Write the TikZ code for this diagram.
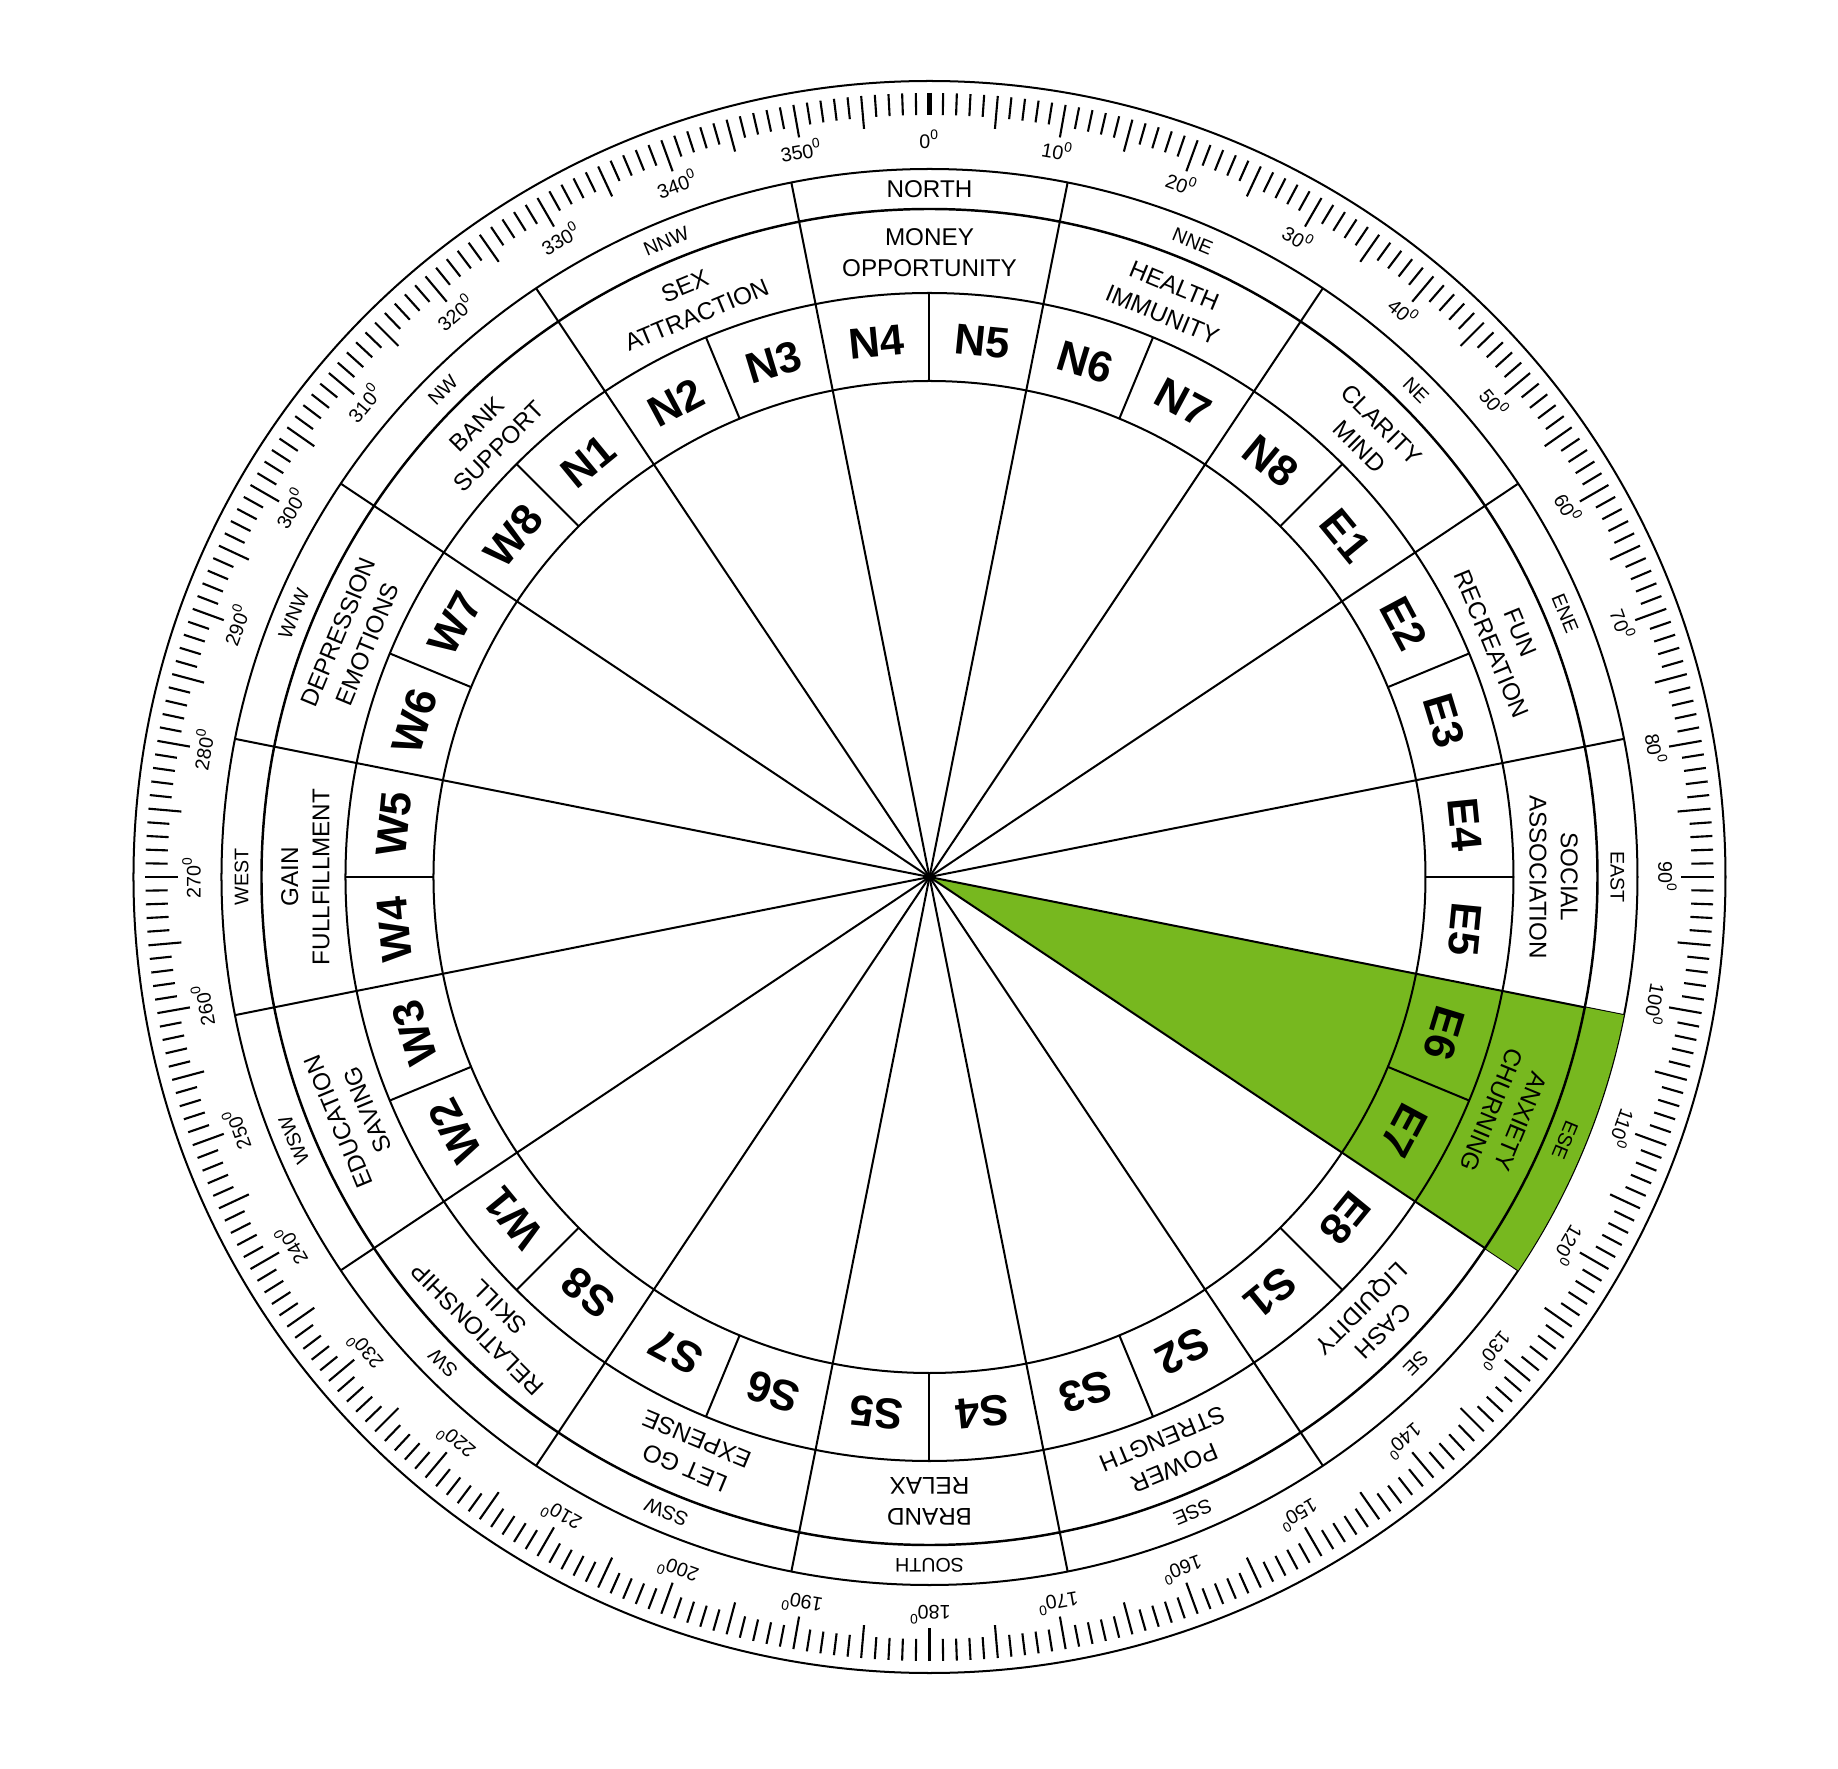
\documentclass[tikz,border=0pt]{standalone}
\usepackage{fontspec}
\setmainfont{Liberation Sans}
\setsansfont{Liberation Sans}
\usetikzlibrary{calc}
\definecolor{cgreen}{HTML}{77B81F}
\tikzset{
  every picture/.style={font=\sffamily, line width=0.57pt},
  degtick/.style={line width=0.6pt},
  degree/.style={font=\sffamily\fontsize{5.6}{6}\selectfont, inner sep=0pt},
  dirlabel/.style={font=\sffamily\fontsize{5.6}{6}\selectfont, inner sep=0pt},
  zone/.style={font=\sffamily\fontsize{6.9}{8.9}\selectfont, align=center, inner sep=0pt},
  pada/.style={font=\sffamily\bfseries\fontsize{12.3}{14}\selectfont, inner sep=0pt},
}

\begin{document}
\begin{tikzpicture}
  \useasboundingbox (-9.295,-8.92) rectangle (9.085,8.77);
  \draw (0,0) circle (7.96);
  \draw (0,0) circle (7.08);
  \foreach \i in {0,...,15}
    \draw ({78.75-22.5*\i}:6.68) -- ({78.75-22.5*\i}:7.08);
  \fill[cgreen] (0,0) -- (-11.25:7.08) arc[start angle=-11.25, end angle=-33.75, radius=7.08] -- cycle;
  \draw[line width=0.7pt] (0,0) circle (6.68);
  \draw (0,0) circle (5.84);
  \draw (0,0) circle (4.96);
  \foreach \i in {0,...,15}
    \draw (0,0) -- ({78.75-22.5*\i}:6.68);
  \foreach \i in {0,...,15}
    \draw ({90-22.5*\i}:4.96) -- ({90-22.5*\i}:5.84);

  \foreach \d in {1,...,359} {
    \pgfmathsetmacro\len{ifthenelse(mod(\d,5)==0, 7.51, 7.62)}
    \draw[degtick] ({90-\d}:7.84) -- ({90-\d}:\len);
  }
  \draw[line width=1.2pt] (90:7.84) -- (90:7.62);
  \foreach \d in {0,10,...,350}
    \node[degree, rotate=-\d] (deg\d) at ({90-\d}:7.38) {\d\textsuperscript{0}};

  \node[dirlabel, font=\sffamily\fontsize{6.9}{8}\selectfont] (dir0) at (90:6.88) {NORTH};
  \foreach \t [count=\i from 1] in {NNE,NE,ENE,EAST,ESE,SE,SSE,SOUTH,SSW,SW,WSW,WEST,WNW,NW,NNW}
    \node[dirlabel, rotate=-22.5*\i] (dir\i) at ({90-22.5*\i}:6.88) {\t};

  \foreach \t [count=\i from 0] in {MONEY\\OPPORTUNITY, HEALTH\\IMMUNITY, CLARITY\\MIND, FUN\\RECREATION,
      SOCIAL\\ASSOCIATION, ANXIETY\\CHURNING, CASH\\LIQUIDITY, POWER\\STRENGTH,
      BRAND\\RELAX, LET GO\\EXPENSE, RELATIONSHIP\\SKILL, EDUCATION\\SAVING,
      GAIN\\FULLFILLMENT, DEPRESSION\\EMOTIONS, BANK\\SUPPORT, SEX\\ATTRACTION}
    \node[zone, rotate=-22.5*\i] (zone\i) at ({90-22.5*\i}:6.24) {\t};

  \foreach \s [count=\q from 0] in {N,E,S,W}
    \foreach \k in {1,...,8} {
      \pgfmathsetmacro\b{320.625+90*\q+11.25*(\k-1)}
      \node[pada, rotate=-\b] (\s\k) at ({90-\b}:5.38) {\s\k};
    }
\end{tikzpicture}
\end{document}
